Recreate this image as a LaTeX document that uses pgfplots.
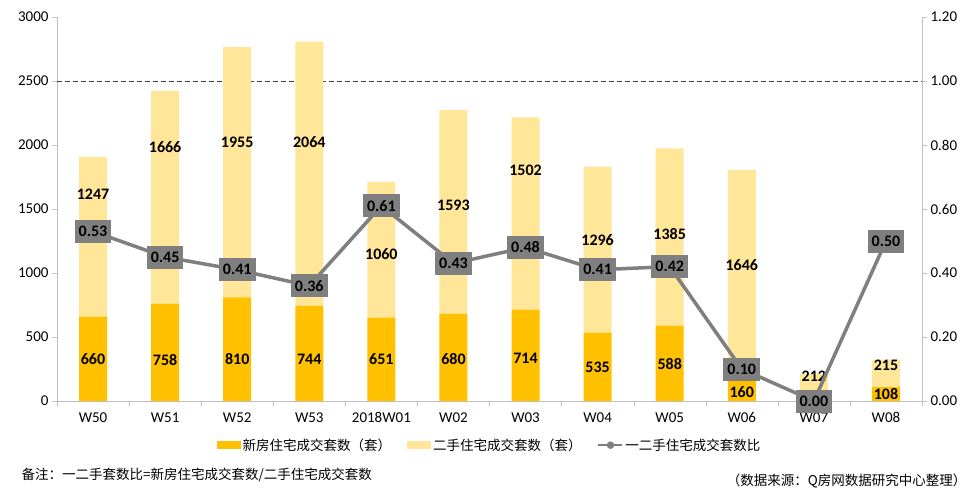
\documentclass[border=0pt]{standalone}
\usepackage{fontspec}
\setmainfont{Carlito}
\newfontfamily\cjk{Noto Sans CJK SC}
\usepackage{pgfplots}
\pgfplotsset{compat=1.18}

\definecolor{newc}{HTML}{FFC000}
\definecolor{oldc}{HTML}{FFE699}
\definecolor{ratc}{HTML}{7F7F7F}
\definecolor{axc}{HTML}{BFBFBF}

\pgfplotsset{
  base/.style={
    scale only axis, width=865pt, height=384pt,
    at={(0,0)}, anchor=south west,
    xmin=-0.5, xmax=11.5, clip=false,
    /pgf/number format/assume math mode=true,
    tick label style={font=\fontsize{15}{17}\selectfont},
    axis line style={axc,-}, tick style={axc},
    tick align=outside, major tick length=5pt, minor tick length=5pt,
  },
}

\begin{document}
\begin{tikzpicture}

% bars
\begin{axis}[
  base,
  ybar stacked, bar width=28pt,
  ymin=0, ymax=3000, ytick={0,500,...,3000},
  /pgf/number format/1000 sep={},
  axis x line*=bottom, axis y line*=left,
  xtick={0,...,11},
  xticklabels={W50,W51,W52,W53,2018W01,W02,W03,W04,W05,W06,W07,W08},
  major x tick style={draw=none},
  minor xtick={-0.5,0.5,...,11.5},
  xticklabel style={yshift=-3pt},
  legend style={at={(0.5,-0.115)}, anchor=center, draw=none,
    font=\cjk\fontsize{13.5}{15}\selectfont, legend columns=3,
    /tikz/every even column/.append style={column sep=14pt}},
]
\addplot[fill=newc, draw=none,
  legend image code/.code={\fill[newc] (0pt,-4pt) rectangle (24pt,4pt);}]
  coordinates {(0,660) (1,758) (2,810) (3,744) (4,651) (5,680) (6,714) (7,535) (8,588) (9,160) (10,0) (11,108)};
\addlegendentry{新房住宅成交套数（套）}
\addplot[fill=oldc, draw=none,
  legend image code/.code={\fill[oldc] (0pt,-4pt) rectangle (24pt,4pt);}]
  coordinates {(0,1247) (1,1666) (2,1955) (3,2064) (4,1060) (5,1593) (6,1502) (7,1296) (8,1385) (9,1646) (10,212) (11,215)};
\addlegendentry{二手住宅成交套数（套）}
\addlegendimage{legend image code/.code={
  \draw[ratc, line width=1.8pt] (0pt,0pt) -- (24pt,0pt);
  \fill[ratc] (12pt,0pt) circle (3.5pt);}}
\addlegendentry{一二手住宅成交套数比}
\draw[black!75, line width=0.9pt, dash pattern=on 5pt off 3pt]
  (axis cs:-0.5,2500) -- (axis cs:11.5,2500);
\end{axis}

% bar value labels
\begin{axis}[
  base, hide axis, ymin=0, ymax=3000,
  nodes near coords, point meta=explicit symbolic,
  every node near coord/.style={anchor=center, text=black,
    font=\bfseries\fontsize{16}{18}\selectfont},
]
\addplot[only marks, mark=none] coordinates {
  (0,328)[660] (1,320)[758] (2,330)[810] (3,328)[744] (4,328)[651] (5,328)[680]
  (6,335)[714] (7,265)[535] (8,290)[588] (9,70)[160] (11,55)[108]};
\addplot[only marks, mark=none] coordinates {
  (0,1615)[1247] (1,1984)[1666] (2,2023)[1955] (3,2023)[2064] (4,1148)[1060]
  (5,1531)[1593] (6,1805)[1502] (7,1258)[1296] (8,1305)[1385] (9,1062)[1646]
  (10,195)[212] (11,281)[215]};
\end{axis}

% ratio line
\begin{axis}[
  base,
  ymin=0, ymax=1.2, ytick={0,0.2,0.4,0.6,0.8,1.0,1.2},
  yticklabel style={/pgf/number format/.cd, fixed, fixed zerofill, precision=2},
  axis y line*=right, axis x line=none, xtick=\empty,
  nodes near coords, point meta=explicit symbolic,
  every node near coord/.style={anchor=center, text=black, fill=ratc,
    inner xsep=4pt, inner ysep=2pt, minimum height=23pt,
    font=\bfseries\fontsize{16}{18}\selectfont},
]
\addplot[ratc, line width=3.5pt, mark=*, mark size=3.5pt, mark options={fill=ratc}]
  coordinates {(0,0.53)[0.53] (1,0.45)[0.45] (2,0.41)[0.41] (3,0.36)[0.36]
  (4,0.61)[0.61] (5,0.43)[0.43] (6,0.48)[0.48] (7,0.41)[0.41] (8,0.42)[0.42]
  (9,0.10)[0.10] (10,0.00)[0.00] (11,0.50)[0.50]};
\end{axis}

\node[anchor=west, font=\cjk\fontsize{13.5}{15}\selectfont] at (-39pt,-74pt)
  {备注：一二手套数比=新房住宅成交套数/二手住宅成交套数};
\node[anchor=east, font=\cjk\fontsize{13.5}{15}\selectfont] at (913pt,-80pt)
  {（数据来源：Q房网数据研究中心整理）};

\pgfresetboundingbox
\path (-57pt,-95pt) rectangle (921pt,401pt);
\end{tikzpicture}
\end{document}
